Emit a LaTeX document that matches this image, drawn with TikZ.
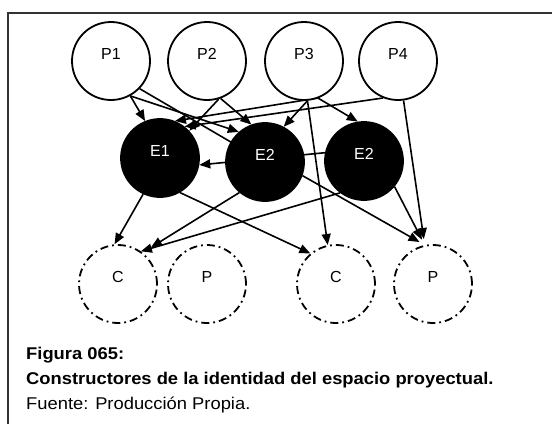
\documentclass[tikz,border=0pt]{standalone}
\usepackage{fontspec}
\setmainfont{Liberation Sans}
\newfontfamily\capfont{Liberation Sans}[FakeStretch=1.08]
\usetikzlibrary{arrows.meta, backgrounds}

\begin{document}
\begin{tikzpicture}[x=1pt, y=-1pt,
    every node/.style={font=\fontsize{16}{19}\selectfont},
    base/.style={circle, minimum size=78pt, inner sep=0pt, line width=1.8pt,
        text height=11.5pt, text depth=15pt},
    proc/.style={base, draw, fill=white},
    ent/.style={base, draw, fill=black, text=white},
    res/.style={base, draw, dash pattern=on 8pt off 4pt on 1.8pt off 4pt},
    conn/.style={line width=1.6pt, -{Triangle[length=11pt,width=9pt]}},
    capline/.style={anchor=base west, inner sep=0pt}]
    \useasboundingbox (0,0) rectangle (552,424);
    \draw[line width=1.6pt, black!80] (8,424) -- (8,13) -- (552,13);

    % top row
    \node[proc] (P1) at (111,61) {P1};
    \node[proc] (P2) at (207,61) {P2};
    \node[proc] (P3) at (304,61) {P3};
    \node[proc] (P4) at (398,61) {P4};
    % middle row
    \node[ent] (E1) at (160,158) {E1};
    \node[ent] (E2a) at (265,162) {E2};
    \node[ent] (E2b) at (364,161) {E2};
    % bottom row
    \node[res] (C1) at (118,284) {C};
    \node[res] (Pr1) at (207,284) {P};
    \node[res] (C2) at (336,284) {C};
    \node[res] (Pr2) at (433,284) {P};

    \begin{scope}[on background layer]
        \draw[conn] (P1.-61) -- (E1.112);
        \draw[conn] (P1.-44) -- (E2a.center);
        \draw[conn] (P1.-61) -- (E2a.131);
        \draw[conn] (P2.-73) -- (E1.43);
        \draw[conn] (P2.-70) -- (E2a.110);
        \draw[conn] (P3.-67) -- (E1.68);
        \draw[conn] (P4.-112) -- (E1.52);
        \draw[conn] (P3.-85) -- (E2a.62);
        \draw[conn] (P3.-69) -- (E2b.99);
        \draw[conn] (P3.-85) -- (C2.102);
        \draw[conn, shorten >=6pt] (P4.-82) -- (Pr2.102);
        \draw[conn] (E2b.168) -- (E1.-10);
        \draw[conn, shorten >=6pt] (E2b.-40) -- (Pr2.102);
        \draw[conn, shorten >=6pt] (E2a.-20) -- (Pr2.102);
        \draw[conn] (E1.-60) -- (C2.130);
        \draw[conn] (E2b.-127) -- (C1.55);
        \draw[conn, shorten >=10pt] (E2a.-130) -- (C1.52);
        \draw[conn] (E1.-115) -- (C1.95);
    \end{scope}

    \node[capline, font=\capfont\bfseries\fontsize{17}{20}\selectfont] (fig) at (26,359) {Figura 065:};
    \node[capline, font=\capfont\bfseries\fontsize{17}{20}\selectfont] (tit) at (26,384) {Constructores de la identidad del espacio proyectual.};
    \node[capline, font=\capfont\fontsize{17}{20}\selectfont] (src) at (26,409) {Fuente: Producción Propia.};
\end{tikzpicture}
\end{document}
